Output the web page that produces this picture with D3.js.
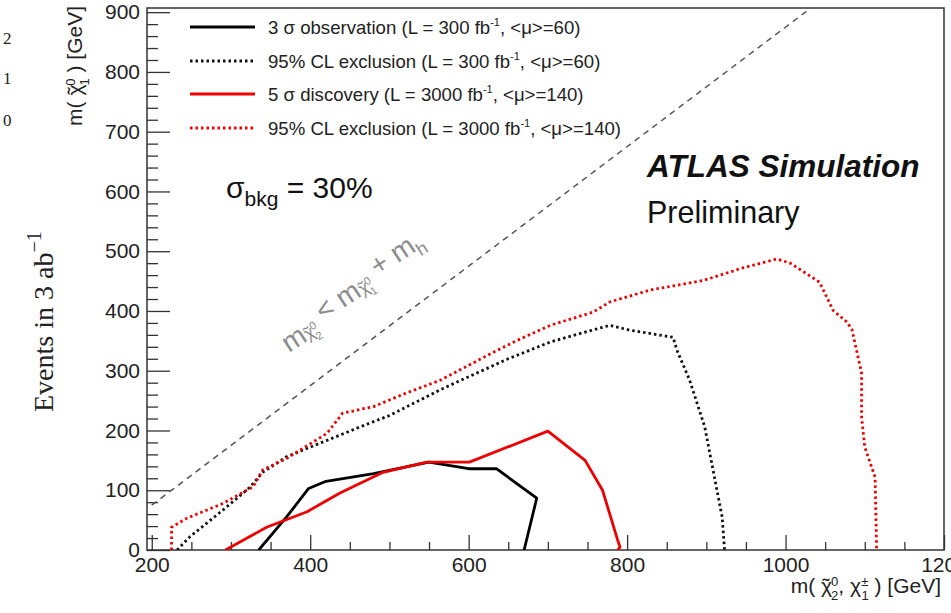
<!DOCTYPE html>
<html>
<head>
<meta charset="utf-8">
<script src="https://cdn.jsdelivr.net/npm/d3@7"></script>
<style>
  body { margin: 0; background: #fff; }
  svg { display: block; font-family: "Liberation Sans", Arial, sans-serif; }
  text { white-space: pre; }
</style>
</head>
<body>
<svg width="951" height="613"></svg>
<script>
// curves: [m(chi2,chi1), m(chi1)] in GeV
const obs3sigma300 = [[335,0],[370,55],[398,103],[420,115],[480,128],[550,147],[600,136],[635,136],[686,87],[670,0]];
const excl95_300 = [[232,0],[248,22],[290,67],[324,105],[340,130],[370,156],[437,192],[463,206],[500,225],[564,268],[600,290],[650,320],[703,348],[740,362],[778,376],[803,368],[858,356],[863,334],[879,284],[898,206],[920,55],[923,0]];
const disc5sigma3000 = [[293,0],[345,38],[396,64],[437,95],[492,130],[547,147],[601,147],[700,199],[747,150],[769,100],[788,17],[791,5],[788,0]];
const excl95_3000 = [[225,0],[225,38],[244,53],[290,78],[328,106],[340,134],[370,153],[421,195],[441,229],[480,240],[520,262],[564,284],[630,330],[660,350],[703,376],[757,398],[778,415],[829,435],[896,451],[946,472],[989,487],[1006,480],[1043,448],[1060,401],[1078,381],[1084,368],[1096,296],[1096,222],[1100,172],[1113,122],[1115,0]];
const higgsMass = 125;

const xTicks = [200, 400, 600, 800, 1000, 1200];
const yTicks = [0, 100, 200, 300, 400, 500, 600, 700, 800, 900];

const legendLabels = [
  ['3 σ observation (L = 300 fb', '-1', ', <μ>=60)'],
  ['95% CL exclusion (L = 300 fb', '-1', ', <μ>=60)'],
  ['5 σ discovery (L = 3000 fb', '-1', ', <μ>=140)'],
  ['95% CL exclusion (L = 3000 fb', '-1', ', <μ>=140)']
];

const RED = '#ee0000';
const seriesStyle = [
  { data: obs3sigma300, color: '#000', dash: null },
  { data: excl95_300, color: '#111', dash: '2.5,3' },
  { data: disc5sigma3000, color: RED, dash: null },
  { data: excl95_3000, color: RED, dash: '2.5,3' }
];

const svg = d3.select('svg');

const x = d3.scaleLinear().domain([194, 1200]).range([147, 944]);
const y = d3.scaleLinear().domain([0, 907]).range([550, 8]);

svg.append('defs').append('clipPath').attr('id', 'plot')
  .append('rect').attr('x', 147).attr('y', 8).attr('width', 797).attr('height', 542);

// axes with inward ticks
const axisColor = '#333';
const gy = svg.append('g').attr('transform', 'translate(147,0)');
gy.call(d3.axisLeft(y).tickValues(d3.range(0, 901, 20)).tickSize(-11).tickFormat(''));
gy.call(g => g.selectAll('.tick').filter(d => yTicks.includes(d)).select('line').attr('x2', 23));
gy.call(g => g.selectAll('.tick').filter(d => yTicks.includes(d)).select('text')
  .text(d => d).attr('x', -7));
gy.selectAll('text').attr('font-size', 21).attr('font-family', 'Liberation Sans, Arial').attr('fill', '#222');

const gx = svg.append('g').attr('transform', 'translate(0,550)');
gx.call(d3.axisBottom(x).tickValues(d3.range(200, 1201, 50)).tickSize(-8).tickFormat(''));
gx.call(g => g.selectAll('.tick').filter(d => xTicks.includes(d)).select('line').attr('y2', -15));
gx.call(g => g.selectAll('.tick').filter(d => xTicks.includes(d)).select('text')
  .text(d => d).attr('y', 7));
gx.selectAll('text').attr('font-size', 21).attr('font-family', 'Liberation Sans, Arial').attr('fill', '#222');

svg.selectAll('.domain').remove();
svg.selectAll('.tick line').attr('stroke', axisColor).attr('stroke-width', 1.3);

svg.append('rect').attr('x', 147).attr('y', 8).attr('width', 797).attr('height', 542)
  .attr('fill', 'none').attr('stroke', axisColor).attr('stroke-width', 1.5);

// kinematic limit
const plot = svg.append('g').attr('clip-path', 'url(#plot)');
plot.append('line')
  .attr('x1', x(200)).attr('y1', y(200 - higgsMass))
  .attr('x2', x(1200)).attr('y2', y(1200 - higgsMass))
  .attr('stroke', '#555').attr('stroke-width', 1.5).attr('stroke-dasharray', '6,5');

const line = d3.line().x(d => x(d[0])).y(d => y(d[1]));
seriesStyle.forEach(s => {
  plot.append('path').attr('d', line(s.data)).attr('fill', 'none')
    .attr('stroke', s.color).attr('stroke-width', 2.8)
    .attr('stroke-dasharray', s.dash).attr('stroke-linejoin', 'round');
});

// legend
const legendY = [27, 61, 94, 128];
seriesStyle.forEach((s, i) => {
  svg.append('line').attr('x1', 190).attr('x2', 255).attr('y1', legendY[i]).attr('y2', legendY[i])
    .attr('stroke', s.color).attr('stroke-width', 2.8).attr('stroke-dasharray', s.dash);
  const t = svg.append('text').attr('x', 268).attr('y', legendY[i] + 7)
    .attr('font-size', 18.6).attr('fill', '#222');
  t.append('tspan').text(legendLabels[i][0]);
  t.append('tspan').attr('dy', -8).attr('font-size', 11).text(legendLabels[i][1]);
  t.append('tspan').attr('dy', 8).text(legendLabels[i][2]);
});

// sigma_bkg
const sb = svg.append('text').attr('x', 226).attr('y', 198).attr('font-size', 30).attr('fill', '#111');
sb.append('tspan').text('σ');
sb.append('tspan').attr('dy', 8).attr('font-size', 21).text('bkg');
sb.append('tspan').attr('dy', -8).text(' = 30%');

// ATLAS label
svg.append('text').attr('x', 647).attr('y', 177).attr('font-size', 31.5)
  .attr('font-weight', 'bold').attr('font-style', 'italic').attr('fill', '#111').text('ATLAS Simulation');
svg.append('text').attr('x', 647).attr('y', 223).attr('font-size', 30.5).attr('fill', '#111').text('Preliminary');

// chi with a tilde, then stacked super/subscript; returns dy needed to get back to baseline
function chiTilde(t, s, sup, sub, tilde = true) {
  t.append('tspan').attr('font-size', s).text('χ');
  if (tilde) {
    t.append('tspan').attr('font-size', s).attr('dx', -0.46 * s).text('˜');
  }
  t.append('tspan').attr('font-size', s * 0.62).attr('dx', tilde ? 0.07 * s : 0.02 * s)
    .attr('dy', -0.34 * s).text(sup);
  t.append('tspan').attr('font-size', s * 0.62).attr('dx', -0.34 * s).attr('dy', 0.66 * s).text(sub);
  return -0.32 * s;
}

// kinematic line label
const kl = svg.append('text').attr('transform', 'translate(289,353) rotate(-33)')
  .attr('font-size', 28).attr('fill', '#8c8c8c');
kl.append('tspan').text('m');
kl.append('tspan').attr('dy', 8).text('');
let back = chiTilde(kl, 18, '0', '2');
kl.append('tspan').attr('dy', back - 8).text(' < m');
kl.append('tspan').attr('dy', 8).text('');
back = chiTilde(kl, 18, '0', '1');
kl.append('tspan').attr('dy', back - 8).text(' + m');
kl.append('tspan').attr('dy', 7).attr('font-size', 18).text('h');

// axis titles
const yt = svg.append('text').attr('transform', 'translate(82,6) rotate(-90)')
  .attr('text-anchor', 'end').attr('font-size', 21).attr('fill', '#222');
yt.append('tspan').text('m( ');
back = chiTilde(yt, 21, '0', '1');
yt.append('tspan').attr('dy', back).text(' ) [GeV]');

const xt = svg.append('text').attr('x', 941).attr('y', 593)
  .attr('text-anchor', 'end').attr('font-size', 21).attr('fill', '#222');
xt.append('tspan').text('m( ');
back = chiTilde(xt, 21, '0', '2');
xt.append('tspan').attr('dy', back).text(', ');
back = chiTilde(xt, 21, '±', '1', false);
xt.append('tspan').attr('dy', back).text(' ) [GeV]');

// fragments of the neighbouring figure on the left
const serif = 'Liberation Serif, Times New Roman, serif';
[['2', 44], ['1', 84], ['0', 126]].forEach(([s, yy]) => {
  svg.append('text').attr('x', 3).attr('y', yy).attr('font-family', serif)
    .attr('font-size', 17).attr('fill', '#222').text(s);
});
const ev = svg.append('text').attr('transform', 'translate(53,412) rotate(-90)')
  .attr('font-family', serif).attr('font-size', 28).attr('fill', '#222');
ev.append('tspan').text('Events in 3 ab');
ev.append('tspan').attr('dy', -12).attr('font-size', 20).text('−1');
</script>
</body>
</html>
